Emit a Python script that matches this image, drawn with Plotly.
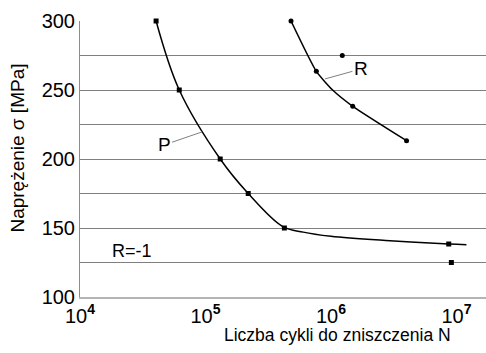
import numpy as np
import plotly.graph_objects as go

# Fatigue test results, series P (squares) and R (circles)
p_cycles = [4.04e4, 6.18e4, 1.31e5, 2.19e5, 4.25e5, 8.67e6]
p_stress = [300, 250, 200, 175, 150, 138.4]
p_runout_cycles = [9.1e6]
p_runout_stress = [125]

r_cycles = [4.8e5, 7.64e5, 1.23e6, 1.49e6, 4.0e6]
r_stress = [300, 263.5, 275, 238.2, 213.3]

# Fitted S-N curves
p_fit_cycles = [4.04e4, 6.18e4, 1.31e5, 2.19e5, 4.1e5, 6.0e5, 1.0e6, 2.95e6, 8.67e6, 1.2e7]
p_fit_stress = [300, 250, 200, 175, 151.2, 147.0, 144.0, 140.8, 138.4, 137.9]

r_fit_cycles = [4.8e5, 7.64e5, 1.03e6, 1.49e6, 4.0e6]
r_fit_stress = [300, 263.5, 250, 238.2, 213.3]

x_tickvals = [1e4, 1e5, 1e6, 1e7]
x_ticktext = ["10<sup><b>4</b></sup>", "10<sup><b>5</b></sup>",
              "10<sup><b>6</b></sup>", "10<sup><b>7</b></sup>"]
y_tickvals = [100, 150, 200, 250, 300]

FONT = "Liberation Sans, Arial, sans-serif"

fig = go.Figure()
fig.add_trace(go.Scatter(x=p_fit_cycles, y=p_fit_stress, mode="lines",
                         line=dict(color="black", width=1.5, shape="spline", smoothing=1.0),
                         hoverinfo="skip", cliponaxis=False))
fig.add_trace(go.Scatter(x=r_fit_cycles, y=r_fit_stress, mode="lines",
                         line=dict(color="black", width=1.5, shape="spline", smoothing=0.5),
                         hoverinfo="skip", cliponaxis=False))
fig.add_trace(go.Scatter(x=p_cycles + p_runout_cycles, y=p_stress + p_runout_stress,
                         mode="markers", cliponaxis=False,
                         marker=dict(symbol="square", size=5, color="black")))
fig.add_trace(go.Scatter(x=r_cycles, y=r_stress, mode="markers", cliponaxis=False,
                         marker=dict(symbol="circle", size=5, color="black")))

fig.update_layout(
    width=486, height=353,
    margin=dict(l=80, r=0, t=21, b=56),
    paper_bgcolor="white", plot_bgcolor="white",
    showlegend=False,
    font=dict(family=FONT, color="black"),
    xaxis=dict(type="log", range=[4, 7.235], tickvals=x_tickvals, ticktext=x_ticktext,
               showgrid=False, zeroline=False, showline=True, linecolor="#b4b4b4",
               linewidth=1.5, ticks="", tickfont=dict(size=20, family=FONT)),
    yaxis=dict(range=[100, 300], tickvals=y_tickvals, showgrid=True,
               gridcolor="#7f7f7f", gridwidth=1,
               showline=True, linecolor="#8c8c8c", linewidth=1, zeroline=False,
               ticks="", tickfont=dict(size=20, family=FONT)),
)

# horizontal grid every 25 MPa (labels only every 50)
for v in [125, 175, 225, 275]:
    fig.add_hline(y=v, line=dict(color="#7f7f7f", width=1), layer="below")

annotations = [
    dict(text="Liczba cykli do zniszczenia N", xref="paper", yref="paper",
         x=0.634, y=-0.138, xanchor="center", yanchor="middle",
         showarrow=False, font=dict(size=17.5)),
    dict(text="Naprężenie σ [MPa]", xref="paper", yref="paper", textangle=-90,
         x=-0.155, y=0.538, xanchor="center", yanchor="middle",
         showarrow=False, font=dict(size=19)),
    dict(text="R=-1", x=np.log10(2.59e4), y=133, xanchor="center", yanchor="middle",
         showarrow=False, font=dict(size=18)),
    dict(text="P", x=np.log10(9.38e4), y=219.6, ax=-38, ay=13, showarrow=True,
         arrowhead=0, arrowwidth=1, arrowcolor="#808080", font=dict(size=19)),
    dict(text="R", x=np.log10(8.95e5), y=258, ax=36, ay=-10, showarrow=True,
         arrowhead=0, arrowwidth=1, arrowcolor="#808080", font=dict(size=19)),
]
fig.update_layout(annotations=annotations)

fig.write_html("out.html")
